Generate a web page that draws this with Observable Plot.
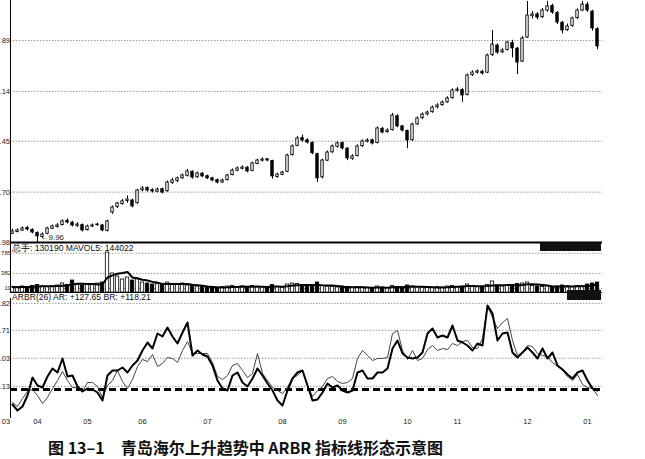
<!DOCTYPE html>
<html><head><meta charset="utf-8">
<script src="https://cdn.jsdelivr.net/npm/d3@7"></script>
<script src="https://cdn.jsdelivr.net/npm/@observablehq/plot@0.6"></script>
<style>
html,body{margin:0;padding:0;background:#fff;}
#wrap{position:relative;width:645px;height:459px;overflow:hidden;font-family:"Liberation Sans",Arial,sans-serif;}
.panel{position:absolute;left:0;}
.hdr{position:absolute;font-size:8.6px;color:#111;white-space:nowrap;line-height:9px;}
.box{position:absolute;background:#111;}
#cap{position:absolute;left:48px;top:435px;font-family:"Noto Sans CJK SC",sans-serif;font-weight:bold;font-size:16px;color:#111;white-space:nowrap;}
</style></head><body><div id="wrap"></div>
<script>
// ---- data (daily candles, index i = trading period) ----
const opens=[10.45,10.55,10.62,10.76,10.66,10.50,10.28,10.45,10.72,10.82,
10.92,11.15,11.05,10.88,10.92,10.65,10.84,10.92,10.90,10.60,
11.60,11.90,12.05,12.22,12.25,12.10,12.80,12.92,12.80,12.72,
12.86,12.75,13.20,13.30,13.45,13.58,13.80,13.50,13.70,13.56,
13.45,13.35,13.22,13.35,13.62,13.86,13.96,14.02,13.85,14.22,
14.40,14.47,14.38,13.52,13.64,13.80,14.70,15.20,15.62,15.50,
15.35,14.75,13.50,14.40,14.85,15.15,15.35,15.05,14.50,14.65,
15.18,15.42,15.50,15.35,16.12,15.95,16.05,16.80,16.25,16.00,
15.50,16.36,16.70,16.90,17.02,17.28,17.40,17.55,17.78,18.18,
18.22,17.95,19.02,19.15,19.20,19.15,20.10,20.62,20.25,20.38,
20.75,20.45,19.75,21.05,22.20,22.30,22.15,22.50,22.75,22.38,
21.85,21.45,21.68,22.10,22.50,22.82,22.45,21.50];
const closes=[10.58,10.63,10.74,10.68,10.52,10.31,10.41,10.74,10.85,10.90,
11.12,11.06,10.90,10.95,10.63,10.85,10.90,10.95,10.63,11.12,
11.87,12.09,12.20,12.30,11.93,12.79,12.90,12.79,12.74,12.84,
12.68,13.22,13.33,13.44,13.60,13.82,13.49,13.71,13.55,13.44,
13.33,13.22,13.33,13.60,13.87,13.98,14.03,13.82,14.25,14.41,
14.46,14.41,13.55,13.65,13.76,14.68,15.17,15.60,15.49,15.38,
14.80,13.44,14.41,14.84,15.17,15.33,15.06,14.52,14.63,15.17,
15.44,15.49,15.33,16.14,15.92,16.03,16.84,16.25,16.03,15.49,
16.35,16.68,16.89,17.00,17.27,17.38,17.54,17.76,18.19,18.24,
17.92,19.00,19.16,19.22,19.11,20.08,20.67,20.24,20.35,20.78,
20.46,19.70,21.00,22.24,22.29,22.13,22.51,22.73,22.40,21.86,
21.43,21.65,22.08,22.51,22.83,22.51,21.54,20.57];
const highs=[10.70,10.72,10.82,10.85,10.72,10.55,10.50,10.80,10.92,11.00,
11.20,11.25,11.12,11.05,10.98,10.92,10.98,11.02,10.96,11.18,
11.95,12.15,12.30,12.50,12.32,12.85,13.00,12.98,12.88,12.92,
12.92,13.30,13.45,13.52,13.68,13.92,13.85,13.78,13.75,13.62,
13.50,13.40,13.40,13.66,13.95,14.06,14.12,14.08,14.32,14.48,
14.55,14.52,14.42,13.72,13.82,14.75,15.25,15.70,15.78,15.58,
15.42,14.80,14.48,14.92,15.25,15.42,15.40,15.10,14.72,15.25,
15.52,15.58,15.56,16.22,16.20,16.12,16.95,16.88,16.30,16.05,
16.42,16.76,16.98,17.08,17.35,17.48,17.62,17.85,18.28,18.35,
18.28,19.08,19.25,19.30,19.28,20.15,21.43,20.70,20.45,20.85,
20.90,20.52,21.10,23.00,22.45,22.40,22.62,23.00,22.85,22.45,
21.92,21.78,22.15,22.60,23.00,22.95,22.52,21.58];
const lows=[10.40,10.50,10.58,10.60,10.45,9.96,10.20,10.40,10.68,10.76,
10.88,10.98,10.82,10.80,10.55,10.60,10.78,10.85,10.55,10.55,
11.50,11.82,12.00,12.10,11.85,12.05,12.72,12.70,12.65,12.66,
12.60,12.70,13.12,13.22,13.40,13.52,13.40,13.45,13.48,13.38,
13.26,13.15,13.16,13.30,13.58,13.80,13.90,13.75,13.80,14.18,
14.33,14.35,13.40,13.45,13.58,13.75,14.65,15.15,15.40,15.30,
14.72,13.22,13.42,14.35,14.80,15.08,14.98,14.40,14.42,14.60,
15.12,15.36,15.25,15.30,15.85,15.88,16.00,16.18,15.95,15.05,
15.45,16.30,16.62,16.82,16.96,17.20,17.34,17.50,17.72,18.10,
17.55,17.90,18.95,19.08,19.02,19.10,20.02,20.15,20.18,20.32,
19.95,19.05,19.70,21.00,22.05,22.00,22.08,22.42,22.30,21.75,
21.25,21.38,21.60,22.02,22.45,22.40,21.40,20.40];
const volumes=[110,100,120,105,130,150,120,110,125,140,
180,150,240,160,140,170,150,180,200,800,
380,320,260,300,240,280,200,180,160,170,
150,200,170,160,180,140,130,120,110,100,
100,90,110,120,130,110,120,100,130,120,
110,100,150,110,100,160,180,170,130,120,
140,200,130,120,110,100,120,100,90,110,
100,90,80,120,100,90,130,110,100,140,
120,110,100,90,100,110,100,120,130,110,
120,160,130,110,100,150,220,140,120,130,
150,170,180,200,130,120,110,130,110,120,
140,120,110,130,120,160,180,200];
const arValues=[76.0,66.4,72.8,90.4,119.2,106.4,103.2,120.8,133.6,127.2,
149.6,120.8,122.4,104.8,96.8,101.6,100.0,95.2,82.4,122.4,
130.4,130.4,135.2,127.2,138.4,146.4,162.4,175.2,165.6,189.6,
184.8,199.2,184.8,173.6,191.2,207.2,154.4,162.4,156.0,152.8,
138.4,114.4,101.6,98.4,122.4,127.2,111.2,104.8,117.6,133.6,
122.4,109.6,98.4,82.4,74.4,98.4,117.6,127.2,130.4,106.4,
82.4,84.0,95.2,109.6,103.2,106.4,98.4,95.2,98.4,127.2,
130.4,117.6,117.6,127.2,127.2,133.6,165.6,178.4,157.6,151.2,
149.6,151.2,159.2,189.6,197.6,183.2,186.4,183.2,202.4,178.4,
175.2,170.4,162.4,173.6,170.4,234.4,221.6,178.4,189.6,191.2,
159.2,151.2,159.2,167.2,159.2,149.6,165.6,149.6,159.2,138.4,
132.0,124.0,117.6,127.2,130.4,114.4,101.6,98.4];
const brValues=[79.2,72.8,85.6,96.8,100.0,90.4,77.6,87.2,101.6,114.4,
128.8,114.4,103.2,103.2,96.8,111.2,111.2,104.8,87.2,106.4,
114.4,130.4,112.8,101.6,116.0,136.8,148.0,144.8,156.0,136.8,
141.6,151.2,149.6,143.2,162.4,176.8,157.6,157.6,157.6,157.6,
143.2,120.8,116.0,122.4,138.4,141.6,130.4,119.2,125.6,157.6,
125.6,114.4,103.2,98.4,93.6,103.2,119.2,122.4,130.4,106.4,
88.8,98.4,104.8,117.6,120.8,112.8,109.6,111.2,117.6,149.6,
162.4,154.4,146.4,149.6,149.6,151.2,189.6,194.4,162.4,148.0,
162.4,146.4,149.6,164.0,170.4,162.4,165.6,164.0,173.6,170.4,
176.8,178.4,167.2,165.6,181.6,232.8,215.2,197.6,207.2,213.6,
178.4,154.4,159.2,170.4,168.8,157.6,154.4,152.8,143.2,136.8,
132.0,120.8,114.4,124.0,108.0,103.2,101.6,90.4];

// ---- tick values and labels ----
const priceTicks=[9.98,12.70,15.45,18.14,20.89];
const priceTickLabels=[".98",".70",".45",".14","89"];
const volTicks=[80,382,785];
const volTickLabels=["10","382","785"];
const arbrTicks=[105.13,150.03,194.71,237.82];
const arbrTickLabels=[".13",".03",".71",".82"];
const monthTickIdx=[-1.3,5,15,26,39,54,66,79,89,103,115];
const monthLabels=["03","04","05","06","07","08","09","10","11","12","01"];
const arbrLevel=100;

const candles=closes.map((c,i)=>({i,open:opens[i],close:c,high:highs[i],low:lows[i],vol:volumes[i],ar:arValues[i],br:brValues[i]}));
const xDomain=[-0.4,118];
const W=645, ML=10, MR=43;
const lbl=(ticks,labels)=>{const m=new Map(ticks.map((t,k)=>[t,labels[k]]));return d=>m.get(d);};
const grid="#9a9a9a";
const FS=7.5;
const wrap=document.getElementById("wrap");
function place(el,top){const d=document.createElement("div");d.className="panel";d.style.top=top+"px";d.appendChild(el);wrap.appendChild(d);}
const upFill=d=>d.close>=d.open?"#fff":"#000";
const st={fontFamily:"Liberation Sans, Arial, sans-serif",fontSize:"8px",background:"transparent",overflow:"visible"};

// ---- price panel ----
const lowVal=d3.min(lows), lowIdx=lows.indexOf(lowVal);
const price=Plot.plot({
  width:W,height:244,marginLeft:ML,marginRight:MR,marginTop:0,marginBottom:2,style:st,
  x:{domain:xDomain,axis:null},
  y:{domain:[9.98,23.05],axis:null},
  marks:[
    Plot.gridY(priceTicks,{stroke:grid,strokeOpacity:1,strokeDasharray:"1.5,1.5"}),
    Plot.axisY(priceTicks,{tickSize:0,tickPadding:0.5,tickFormat:lbl(priceTicks,priceTickLabels),fontSize:FS,fill:"#222",label:null}),
    Plot.ruleX(candles,{x:"i",y1:"low",y2:"high",stroke:"#000",strokeWidth:1}),
    Plot.rect(candles,{x1:d=>d.i-0.24,x2:d=>d.i+0.24,y1:"open",y2:"close",fill:upFill,stroke:"#000",strokeWidth:0.9}),
    Plot.text([{i:lowIdx,v:lowVal}],{x:"i",y:"v",text:d=>"\u2190"+d3.format(".2f")(d.v),textAnchor:"start",dx:3,dy:-5,fontSize:8,fill:"#222"}),
    Plot.ruleY([9.98],{stroke:"#000",strokeWidth:2}),
    Plot.ruleX([xDomain[0]],{stroke:"#000",strokeWidth:1})
  ]
});
place(price,0);

// ---- volume panel ----
const vol=Plot.plot({
  width:W,height:50,marginLeft:ML,marginRight:MR,marginTop:0,marginBottom:1,style:st,
  x:{domain:xDomain,axis:null},
  y:{domain:[0,980],axis:null},
  marks:[
    Plot.gridY(volTicks,{stroke:grid,strokeOpacity:1,strokeDasharray:"1.5,1.5"}),
    Plot.axisY(volTicks,{tickSize:0,tickPadding:-0.6,tickFormat:lbl(volTicks,volTickLabels),fontSize:6,fill:"#222",label:null}),
    Plot.rect(candles,{x1:d=>d.i-0.34,x2:d=>d.i+0.34,y1:0,y2:"vol",fill:upFill,stroke:"#000",strokeWidth:0.8}),
    Plot.lineY(candles,Plot.windowY({k:5,anchor:"end"},{x:"i",y:"vol",stroke:"#000",strokeWidth:2})),
    Plot.ruleY([0],{stroke:"#000",strokeWidth:1}),
    Plot.ruleX([xDomain[0]],{stroke:"#000",strokeWidth:1})
  ]
});
place(vol,243);

// ---- ARBR panel ----
const arbr=Plot.plot({
  width:W,height:134,marginLeft:ML,marginRight:MR,marginTop:0,marginBottom:14,style:st,
  x:{domain:xDomain},
  y:{domain:[53.6,245.6],axis:null},
  marks:[
    Plot.gridY(arbrTicks,{stroke:grid,strokeOpacity:1,strokeDasharray:"1.5,1.5"}),
    Plot.axisY(arbrTicks,{tickSize:0,tickPadding:0.5,tickFormat:lbl(arbrTicks,arbrTickLabels),fontSize:FS,fill:"#222",label:null}),
    Plot.axisX(monthTickIdx,{tickSize:0,tickPadding:0,tickFormat:lbl(monthTickIdx,monthLabels),fontSize:FS,fill:"#222",label:null}),
    Plot.ruleY([arbrLevel],{stroke:"#000",strokeWidth:3,strokeDasharray:"7,4"}),
    Plot.lineY(candles,{x:"i",y:"br",stroke:"#444",strokeWidth:1}),
    Plot.lineY(candles,{x:"i",y:"ar",stroke:"#000",strokeWidth:2}),
    Plot.ruleX([xDomain[0]],{stroke:"#000",strokeWidth:1})
  ]
});
place(arbr,298);

// ---- headers / decorations ----
function hdr(text,left,top){const d=document.createElement("div");d.className="hdr";d.style.left=left+"px";d.style.top=top+"px";d.textContent=text;wrap.appendChild(d);}
function box(l,t,w,h){const d=document.createElement("div");d.className="box";Object.assign(d.style,{left:l+"px",top:t+"px",width:w+"px",height:h+"px"});wrap.appendChild(d);}
hdr("总手: 130190 MAVOL5: 144022",12,244);
hdr("ARBR(26) AR: +127.65 BR: +118.21",12,293);
box(540,243,61,8);
box(567,290,34,10);
const cap=document.createElement("div");cap.id="cap";
cap.textContent="图 13–1\u3000青岛海尔上升趋势中 ARBR 指标线形态示意图";
wrap.appendChild(cap);
</script></body></html>
